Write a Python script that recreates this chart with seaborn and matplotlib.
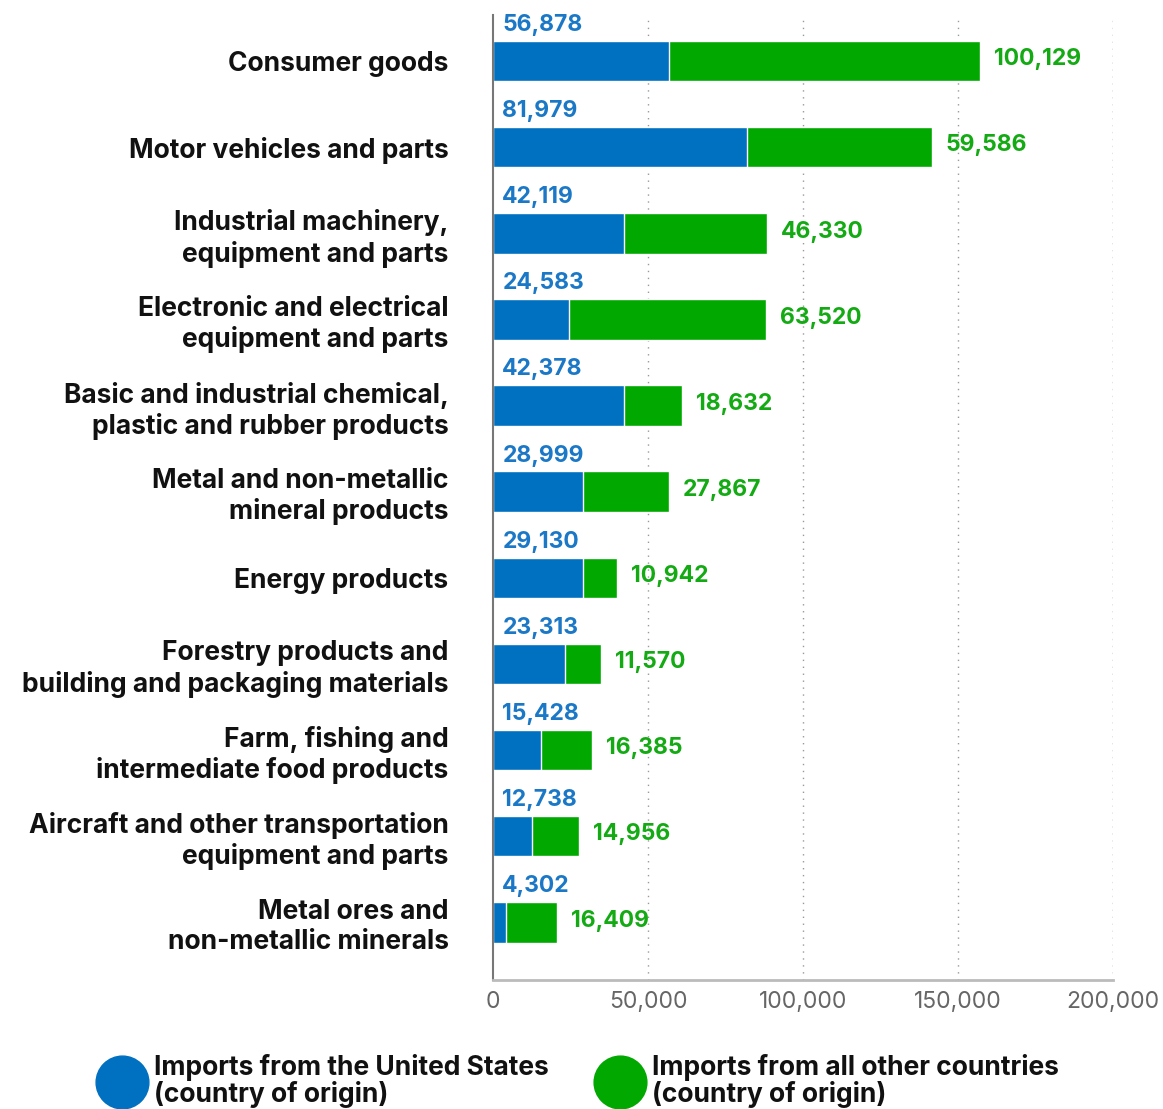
import matplotlib
matplotlib.use("Agg")
import matplotlib.pyplot as plt
from matplotlib.lines import Line2D
import seaborn as sns
import pandas as pd

categories = [
    "Consumer goods",
    "Motor vehicles and parts",
    "Industrial machinery,\nequipment and parts",
    "Electronic and electrical\nequipment and parts",
    "Basic and industrial chemical,\nplastic and rubber products",
    "Metal and non-metallic\nmineral products",
    "Energy products",
    "Forestry products and\nbuilding and packaging materials",
    "Farm, fishing and\nintermediate food products",
    "Aircraft and other transportation\nequipment and parts",
    "Metal ores and\nnon-metallic minerals",
]
us_imports = [56878, 81979, 42119, 24583, 42378, 28999, 29130, 23313, 15428, 12738, 4302]
other_imports = [100129, 59586, 46330, 63520, 18632, 27867, 10942, 11570, 16385, 14956, 16409]
tick_values = [0, 50000, 100000, 150000, 200000]
legend_labels = ["Imports from the United States\n(country of origin)",
                 "Imports from all other countries\n(country of origin)"]

BLUE = "#0070C0"
GREEN = "#00A800"
BLUE_TXT = "#1B78C6"
GREEN_TXT = "#14AA14"

df = pd.DataFrame({"category": categories, "us": us_imports, "other": other_imports})
df["total"] = df["us"] + df["other"]

sns.set_theme(style="white")
plt.rcParams["font.family"] = ["Inter", "DejaVu Sans"]

fig = plt.figure(figsize=(11.63, 11.09), dpi=100)
ax = fig.add_axes([493 / 1163, 1 - 980 / 1109, 620 / 1163, 965 / 1109])

# stacked bars: full total in green, US share over it in blue
sns.barplot(data=df, x="total", y="category", color=GREEN, width=0.47,
            saturation=1, ax=ax, orient="h")
sns.barplot(data=df, x="us", y="category", color=BLUE, width=0.47,
            saturation=1, ax=ax, orient="h")

ax.set_xlim(0, 200000)
ax.set_ylim(10.67, -0.535)
ax.set_xlabel("")
ax.set_ylabel("")
ax.set_xticks(tick_values)
ax.set_xticklabels([f"{v:,}" for v in tick_values], color="#666666", fontsize=16.5)
ax.tick_params(axis="x", length=0, pad=8)
ax.tick_params(axis="y", length=0, pad=32)
ax.set_yticks(range(len(categories)))
ax.set_yticklabels(categories, fontsize=19, fontweight="bold", color="#111111",
                   linespacing=1.2)

for x in tick_values[1:]:
    ax.axvline(x, color="#999999" if x < 200000 else "#777777", lw=1,
               ls=(0, (1, 4)), zorder=0)

for s in ["top", "right"]:
    ax.spines[s].set_visible(False)
ax.spines["left"].set_color("#777777")
ax.spines["left"].set_linewidth(1.5)
ax.spines["bottom"].set_color("#BBBBBB")
ax.spines["bottom"].set_linewidth(2)

for i, row in df.iterrows():
    ax.text(3000, i - 0.42, f"{row['us']:,}", color=BLUE_TXT, fontsize=16.5,
            fontweight="bold", ha="left", va="center")
    ax.text(row["total"] + 4500, i - 0.02, f"{row['other']:,}", color=GREEN_TXT,
            fontsize=16.5, fontweight="bold", ha="left", va="center")

handles = [Line2D([], [], marker="o", ls="", markersize=38, color=BLUE),
           Line2D([], [], marker="o", ls="", markersize=38, color=GREEN)]
leg = fig.legend(handles, legend_labels, loc="center left",
                 bbox_to_anchor=(80 / 1163, 1 - 1081 / 1109), ncol=2,
                 frameon=False, fontsize=19, handletextpad=0.5,
                 columnspacing=2.0, handlelength=1.4)
for t in leg.get_texts():
    t.set_fontweight("bold")
    t.set_color("#111111")
    t.set_linespacing(1.0)

fig.savefig("out.png", dpi=100, facecolor="white")
